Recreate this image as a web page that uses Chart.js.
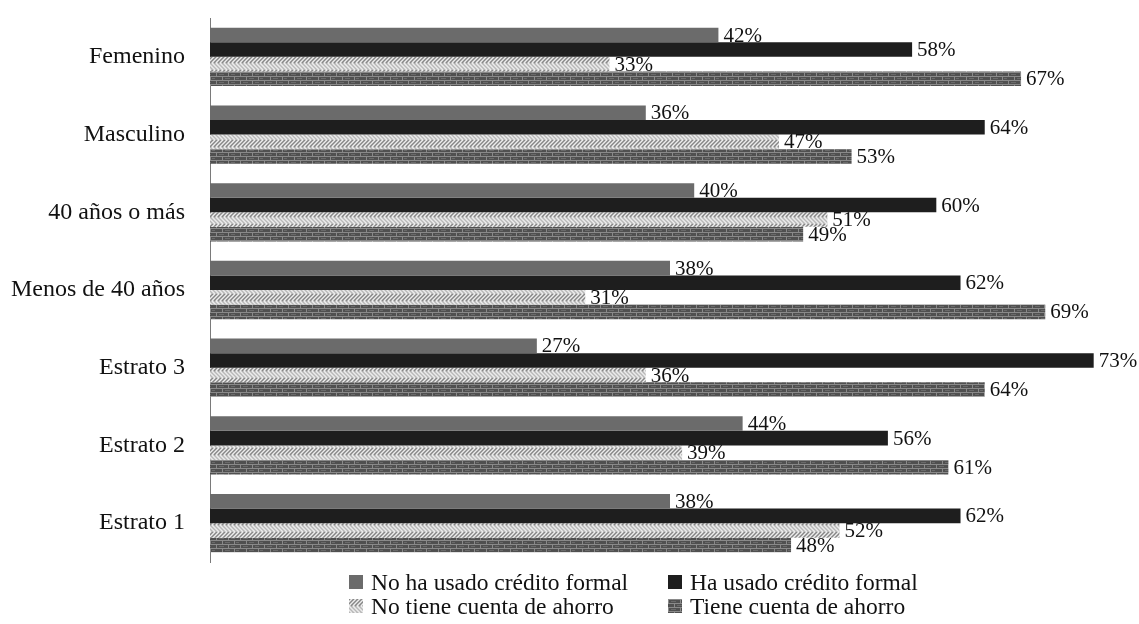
<!DOCTYPE html>
<html>
<head>
<meta charset="utf-8">
<script src="https://cdn.jsdelivr.net/npm/chart.js@4.4.1/dist/chart.umd.min.js"></script>
<style>
  body { margin: 0; background: #fff; }
  #wrap { position: relative; width: 1139px; height: 624px; }
  #chart { display: block; }
  #legend { position: absolute; left: 0; top: 568px; width: 1139px; font-family: "Liberation Serif", serif; font-size: 23.5px; color: #111; line-height: 24px; }
  .item { position: absolute; display: flex; align-items: center; white-space: nowrap; }
  .item canvas { margin-right: 8px; }
</style>
</head>
<body>
<div id="wrap">
  <canvas id="chart" width="1139" height="624"></canvas>
  <div id="legend"></div>
</div>
<script>
const categories = ["Femenino", "Masculino", "40 años o más", "Menos de 40 años", "Estrato 3", "Estrato 2", "Estrato 1"];
const seriesNames = ["No ha usado crédito formal", "Ha usado crédito formal", "No tiene cuenta de ahorro", "Tiene cuenta de ahorro"];
const noCredito = [42, 36, 40, 38, 27, 44, 38];
const siCredito = [58, 64, 60, 62, 73, 56, 62];
const noAhorro = [33, 47, 51, 31, 36, 39, 52];
const siAhorro = [67, 53, 49, 69, 64, 61, 48];

// tile for the light herringbone fill
function herringTile() {
    const c = document.createElement("canvas");
    c.width = 16; c.height = 14;
    const g = c.getContext("2d");
    g.fillStyle = "#b8b8b8";
    g.fillRect(0, 0, 16, 14);
    g.lineWidth = 1.5;
    for (let i = -16; i < 32; i += 4) {
        g.strokeStyle = "#ececec";
        g.beginPath(); g.moveTo(i, 7); g.lineTo(i + 7, 0); g.stroke();
        g.beginPath(); g.moveTo(i, 7); g.lineTo(i + 7, 14); g.stroke();
        g.strokeStyle = "#888888";
        g.beginPath(); g.moveTo(i + 2, 7); g.lineTo(i + 9, 0); g.stroke();
    }
    return c;
}

// tile for the dark brick fill
function brickTile() {
    const c = document.createElement("canvas");
    c.width = 24; c.height = 8;
    const g = c.getContext("2d");
    g.fillStyle = "#505050";
    g.fillRect(0, 0, 24, 8);
    g.fillStyle = "#8a8a8a";
    g.fillRect(0, 0, 24, 1);
    g.fillRect(0, 4, 24, 1);
    g.fillRect(0, 1, 1, 3);
    g.fillRect(12, 1, 1, 3);
    g.fillRect(6, 5, 1, 3);
    g.fillRect(18, 5, 1, 3);
    g.fillStyle = "#6a6a6a";
    g.fillRect(3, 2, 5, 1);
    g.fillRect(15, 2, 4, 1);
    g.fillRect(9, 6, 5, 1);
    g.fillRect(20, 6, 3, 1);
    return c;
}

const ctx = document.getElementById("chart").getContext("2d");
const fills = [
    "#6b6b6b",
    "#1e1e1e",
    ctx.createPattern(herringTile(), "repeat"),
    ctx.createPattern(brickTile(), "repeat")
];

// draws the value at the end of each bar
const barLabels = {
    id: "barLabels",
    afterDatasetsDraw(chart) {
        const c = chart.ctx;
        c.save();
        c.font = "21px 'Liberation Serif'";
        c.fillStyle = "#111";
        c.textBaseline = "middle";
        chart.data.datasets.forEach((ds, di) => {
            chart.getDatasetMeta(di).data.forEach((bar, i) => {
                c.fillText(ds.data[i] + "%", bar.x + 5, bar.y + 1);
            });
        });
        c.restore();
    }
};

const myChart = new Chart(ctx, {
    type: "bar",
    plugins: [barLabels],
    data: {
        labels: categories,
        datasets: [
            { label: seriesNames[0], data: noCredito, backgroundColor: fills[0] },
            { label: seriesNames[1], data: siCredito, backgroundColor: fills[1] },
            { label: seriesNames[2], data: noAhorro, backgroundColor: fills[2] },
            { label: seriesNames[3], data: siAhorro, backgroundColor: fills[3] }
        ]
    },
    options: {
        indexAxis: "y",
        responsive: false,
        animation: false,
        layout: { padding: { top: 18, bottom: 62, left: 0, right: 9 } },
        datasets: { bar: { categoryPercentage: 0.75, barPercentage: 1 } },
        scales: {
            x: { display: false, min: 0, max: 76 },
            y: {
                // fixed width, and no extra room above/below for the tick labels
                afterFit: (scale) => {
                    scale.width = 210;
                    scale.paddingTop = 0;
                    scale.paddingBottom = 0;
                },
                grid: { display: false, drawTicks: false },
                border: { display: true, color: "#7a7a7a", width: 1 },
                ticks: { color: "#111", padding: 25, font: { family: "Liberation Serif", size: 24 } }
            }
        },
        plugins: { legend: { display: false }, tooltip: { enabled: false } }
    }
});

// legend in two columns under the plot
const legendPos = [[349, 14], [668, 14], [349, 38], [668, 38]];
const legend = document.getElementById("legend");
seriesNames.forEach((name, i) => {
    const item = document.createElement("div");
    item.className = "item";
    item.style.left = legendPos[i][0] + "px";
    item.style.top = (legendPos[i][1] - 12) + "px";
    const sw = document.createElement("canvas");
    sw.width = 14; sw.height = 14;
    const sg = sw.getContext("2d");
    sg.fillStyle = i < 2 ? fills[i] : sg.createPattern(i === 2 ? herringTile() : brickTile(), "repeat");
    sg.fillRect(0, 0, 14, 14);
    item.appendChild(sw);
    item.appendChild(document.createTextNode(name));
    legend.appendChild(item);
});
</script>
</body>
</html>
